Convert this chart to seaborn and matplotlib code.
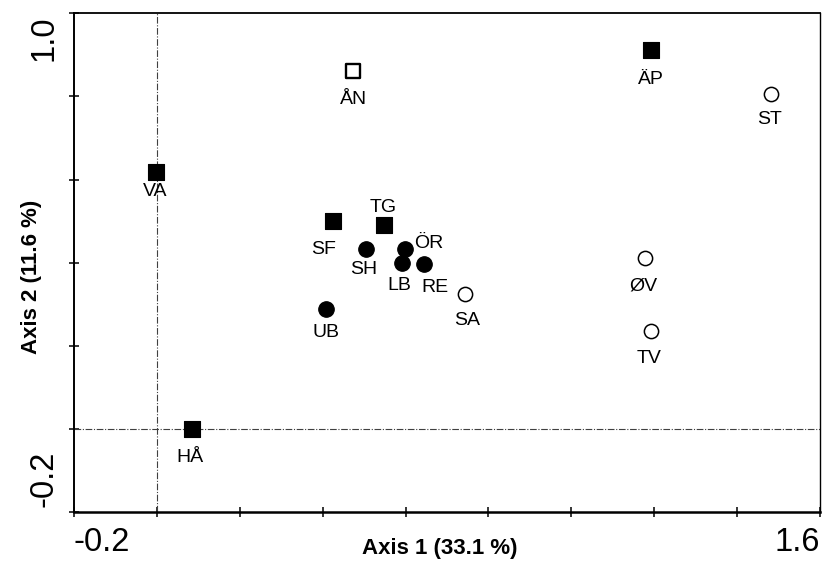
import matplotlib
matplotlib.use("Agg")
import matplotlib.pyplot as plt
import matplotlib.transforms as mtransforms
import seaborn as sns
import pandas as pd

# ---- data ----
sites = ["VA", "HÅ", "SF", "TG", "ÄP", "ÅN", "SH", "ÖR", "LB", "RE", "UB", "SA", "ST", "ØV", "TV"]
axis1 = [-0.003, 0.085, 0.424, 0.549, 1.192, 0.474, 0.504, 0.599, 0.591, 0.645, 0.407, 0.744, 1.481, 1.177, 1.192]
axis2 = [0.619, 0.000, 0.500, 0.491, 0.912, 0.862, 0.433, 0.433, 0.398, 0.397, 0.288, 0.325, 0.805, 0.410, 0.236]
groups = ["filled square", "filled square", "filled square", "filled square", "filled square",
          "open square",
          "filled circle", "filled circle", "filled circle", "filled circle", "filled circle",
          "open circle", "open circle", "open circle", "open circle"]
x_ticks = [-0.2, 0.0, 0.2, 0.4, 0.6, 0.8, 1.0, 1.2, 1.4, 1.6]
x_tick_labels = ["-0.2", "", "", "", "", "", "", "", "", "1.6"]
y_ticks = [-0.2, 0.0, 0.2, 0.4, 0.6, 0.8, 1.0]
y_tick_labels = ["-0.2", "", "", "", "", "", "1.0"]
x_title = "Axis 1 (33.1 %)"
y_title = "Axis 2 (11.6 %)"

df = pd.DataFrame({"site": sites, "axis1": axis1, "axis2": axis2, "group": groups})

# ---- style ----
sns.set_theme(style="ticks")
plt.rcParams["font.family"] = ["Liberation Sans", "DejaVu Sans"]

fig = plt.figure(figsize=(8.22, 5.69), dpi=100)
ax = fig.add_axes([0.0900, 0.1002, 0.9076, 0.8764])

marker_styles = {
    "filled square": dict(marker="s", s=125, facecolor="black", edgecolor="black", linewidth=0.8),
    "open square": dict(marker="s", s=115, facecolor="white", edgecolor="black", linewidth=1.7),
    "filled circle": dict(marker="o", s=125, facecolor="black", edgecolor="black", linewidth=0.8),
    "open circle": dict(marker="o", s=105, facecolor="white", edgecolor="black", linewidth=1.1),
}

ax.axvline(0, color="0.25", lw=0.8, ls=(0, (6, 1.5, 1, 1.5)), zorder=1)
ax.axhline(0, color="0.25", lw=0.8, ls=(0, (6, 1.5, 1, 1.5)), zorder=1)

for g, st in marker_styles.items():
    sub = df[df["group"] == g]
    sns.scatterplot(data=sub, x="axis1", y="axis2", ax=ax, legend=False, zorder=3, **st)

# label offsets in pixels (dx right, dy down to baseline)
label_offsets = {
    "VA": (0, 24), "HÅ": (-2, 33), "SF": (-9, 33), "TG": (-1, -13), "ÄP": (0, 34),
    "ÅN": (0, 33), "SH": (-2, 25), "ÖR": (24, -1), "LB": (-3, 27), "RE": (11, 28),
    "UB": (0, 28), "SA": (2, 31), "ST": (-1, 30), "ØV": (-1, 32), "TV": (-2, 32),
}
for _, r in df.iterrows():
    dx, dy = label_offsets.get(r["site"], (0, 30))
    ax.annotate(r["site"], (r["axis1"], r["axis2"]), xytext=(dx, -dy),
                textcoords="offset pixels", ha="center", va="baseline",
                fontsize=14, color="black", zorder=4)

ax.set_xlim(-0.2, 1.6)
ax.set_ylim(-0.2, 1.0)
ax.set_xticks(x_ticks, x_tick_labels)
ax.set_yticks(y_ticks, y_tick_labels)
ax.tick_params(axis="both", direction="inout", length=7, width=1.1, color="black",
               labelsize=23.5, pad=7, labelcolor="black")
ax.tick_params(axis="y", labelrotation=90)

xl = ax.get_xticklabels()
xl[0].set_ha("left")
xl[-1].set_ha("right")
yl = ax.get_yticklabels()
yl[0].set_va("bottom")
yl[-1].set_va("top")
for t in yl:
    t.set_ha("right")
yl[0].set_transform(yl[0].get_transform()
                    + mtransforms.ScaledTranslation(0, 0.05, fig.dpi_scale_trans))
yl[-1].set_transform(yl[-1].get_transform()
                     + mtransforms.ScaledTranslation(0, -0.02, fig.dpi_scale_trans))

for side, lw in {"left": 1.4, "bottom": 1.8, "top": 1.3, "right": 1.0}.items():
    ax.spines[side].set_visible(True)
    ax.spines[side].set_color("black")
    ax.spines[side].set_linewidth(lw)

ax.set_xlabel(x_title, fontsize=16, fontweight="bold", color="black")
ax.set_ylabel(y_title, fontsize=16, fontweight="bold", color="black")
ax.xaxis.set_label_coords(0.49, -0.052)
ax.yaxis.set_label_coords(-0.043, 0.471)

fig.savefig("out.png", dpi=100, facecolor="white")
